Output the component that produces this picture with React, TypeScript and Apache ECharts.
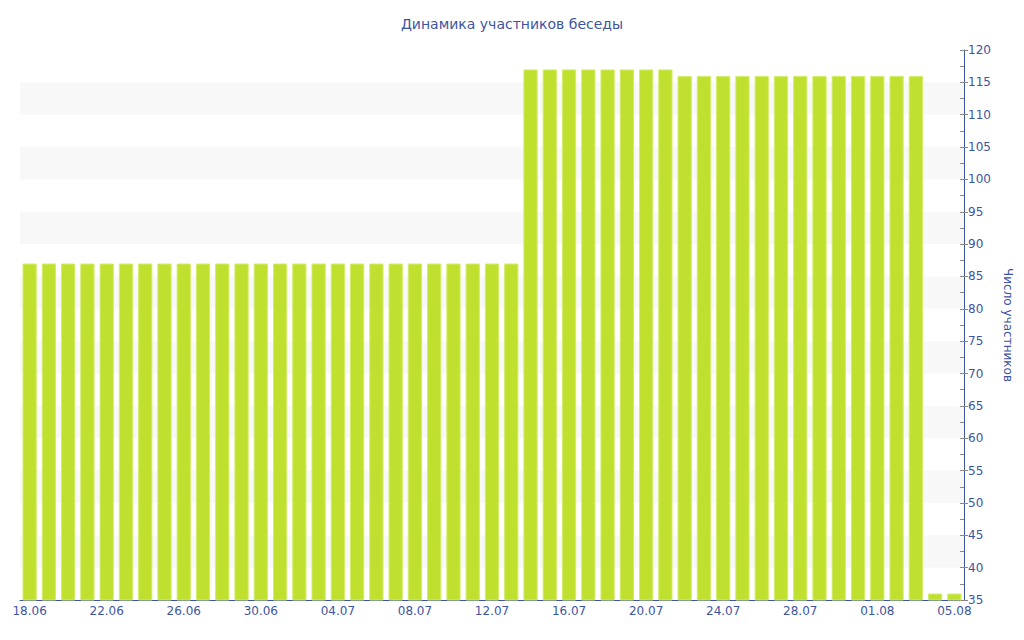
import React, { useEffect, useRef } from "react";
import * as echarts from "echarts";

const categories: string[] = [
  "18.06","19.06","20.06","21.06","22.06","23.06","24.06","25.06","26.06","27.06","28.06","29.06","30.06",
  "01.07","02.07","03.07","04.07","05.07","06.07","07.07","08.07","09.07","10.07","11.07","12.07","13.07",
  "14.07","15.07","16.07","17.07","18.07","19.07","20.07","21.07",
  "22.07","23.07","24.07","25.07","26.07","27.07","28.07","29.07","30.07","31.07","01.08","02.08","03.08",
  "04.08","05.08",
];

const participants: number[] = [
  87,87,87,87,87,87,87,87,87,87,87,87,87,
  87,87,87,87,87,87,87,87,87,87,87,87,87,
  117,117,117,117,117,117,117,117,
  116,116,116,116,116,116,116,116,116,116,116,116,116,
  36,36,
];

const TITLE = "Динамика участников беседы";
const Y_NAME = "Число участников";
const Y_MIN = 35;
const Y_MAX = 120;

export default function App() {
  const ref = useRef<HTMLDivElement>(null);
  useEffect(() => {
    if (!ref.current) return;
    const chart = echarts.init(ref.current, null, { renderer: "svg" });
    const blue = "#3d55a0";
    const font = "DejaVu Sans, Verdana, sans-serif";
    chart.setOption({
      animation: false,
      textStyle: { fontFamily: font },
      title: {
        text: TITLE,
        left: "center",
        top: 12,
        textStyle: { color: blue, fontSize: 14, fontWeight: "normal", fontFamily: font },
      },
      grid: { left: 20, right: 60, top: 50, bottom: 40 },
      xAxis: {
        type: "category",
        data: categories,
        axisLine: { lineStyle: { color: blue } },
        axisTick: { alignWithLabel: true, interval: 3, length: 4, lineStyle: { color: "#888" } },
        axisLabel: { interval: 3, color: blue, fontSize: 12, margin: 5, fontFamily: font },
        splitLine: { show: false },
      },
      yAxis: [
        {
          type: "value",
          position: "right",
          min: Y_MIN,
          max: Y_MAX,
          interval: 5,
          name: Y_NAME,
          nameLocation: "middle",
          nameRotate: -90,
          nameGap: 38,
          nameTextStyle: { color: blue, fontSize: 12, fontFamily: font },
          axisLine: { show: true, lineStyle: { color: blue } },
          axisTick: { show: true, length: 4, lineStyle: { color: "#888" } },
          axisLabel: { color: blue, fontSize: 12, margin: 4, fontFamily: font },
          splitLine: { show: false },
          splitArea: { show: true, areaStyle: { color: ["rgba(255,255,255,0)", "#f8f8f8"] } },
        },
        {
          type: "value",
          position: "right",
          min: Y_MIN,
          max: Y_MAX,
          interval: 2.5,
          axisLine: { show: false },
          axisTick: { show: true, inside: true, length: 4, lineStyle: { color: "#888" } },
          axisLabel: { show: false },
          splitLine: { show: false },
          splitArea: { show: false },
        },
      ],
      series: [
        {
          type: "bar",
          data: participants,
          yAxisIndex: 0,
          barCategoryGap: "26%",
          itemStyle: { color: "#bfe02f", borderColor: "#d4ec6a", borderWidth: 1 },
        },
      ],
    });
    return () => chart.dispose();
  }, []);
  return <div ref={ref} style={{ width: 1024, height: 640, position: "absolute", left: 0, top: 0 }} />;
}
